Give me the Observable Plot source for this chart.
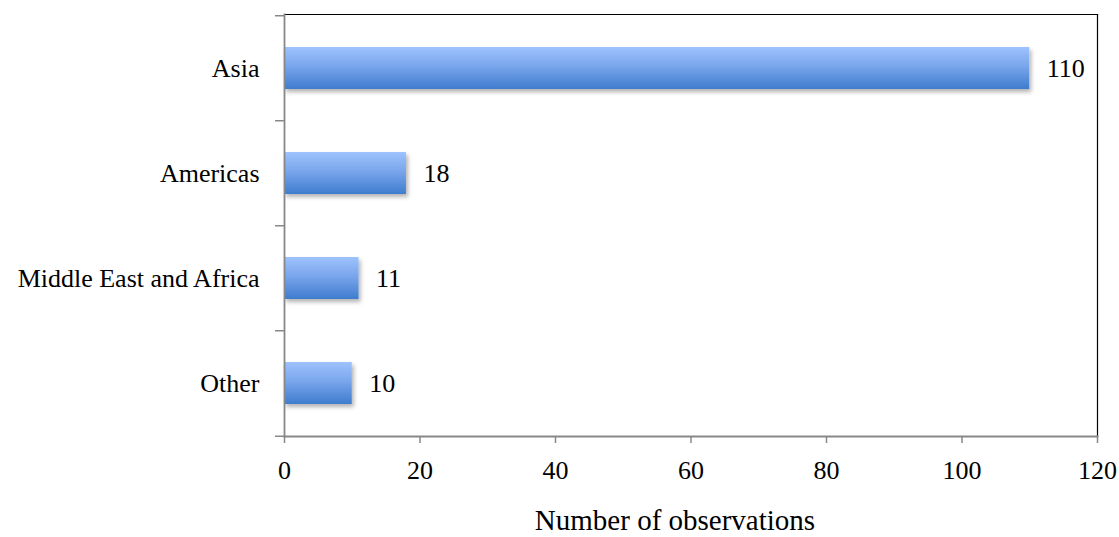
<!DOCTYPE html>
<html><head><meta charset="utf-8">
<script src="https://cdn.jsdelivr.net/npm/d3@7"></script>
<script src="https://cdn.jsdelivr.net/npm/@observablehq/plot@0.6"></script>
<style>body{margin:0;background:#fff}</style>
</head><body><div id="chart"></div>
<script>
const regions = ["Asia", "Americas", "Middle East and Africa", "Other"];
const counts = [110, 18, 11, 10];
const xTicks = [0, 20, 40, 60, 80, 100, 120];
const xLabel = "Number of observations";

const data = regions.map((r, i) => ({region: r, count: counts[i]}));

const W = 1119, H = 537;
const mTop = 14, mBottom = 101, mLeft = 284, mRight = 22;
const step = (H - mTop - mBottom) / regions.length;
const pxPerUnit = (W - mLeft - mRight) / 120;
const tickLen = 9 / pxPerUnit;

const defs = () => {
  const d = d3.create("svg:defs");
  const g = d.append("linearGradient").attr("id", "barGrad")
    .attr("x1", 0).attr("x2", 0).attr("y1", 0).attr("y2", 1);
  g.append("stop").attr("offset", "0%").attr("stop-color", "#9ec3fd");
  g.append("stop").attr("offset", "45%").attr("stop-color", "#7aa6ec");
  g.append("stop").attr("offset", "100%").attr("stop-color", "#3f7cce");
  const f = d.append("filter").attr("id", "shadow")
    .attr("x", "-5%").attr("y", "-20%").attr("width", "115%").attr("height", "150%");
  f.append("feDropShadow").attr("dx", 2).attr("dy", 3).attr("stdDeviation", 2)
    .attr("flood-color", "#000").attr("flood-opacity", 0.3);
  return d.node();
};

const font = "'Liberation Serif', 'Times New Roman', serif";

const chart = Plot.plot({
  width: W, height: H,
  marginTop: mTop, marginBottom: mBottom, marginLeft: mLeft, marginRight: mRight,
  style: {fontFamily: font, fontSize: "26px", color: "black", background: "white"},
  x: {domain: [0, 120]},
  y: {domain: regions, paddingInner: 0.6, paddingOuter: 0.3},
  marks: [
    defs,
    Plot.barX(data, {x: "count", y: "region", fill: "url(#barGrad)"}),
    Plot.text(data, {x: "count", y: "region", text: d => String(d.count), textAnchor: "start", dx: 17, fill: "black", fontSize: 26}),
    Plot.frame({anchor: "top", stroke: "black", strokeWidth: 1.2}),
    Plot.frame({anchor: "right", stroke: "black", strokeWidth: 1.2}),
    Plot.frame({anchor: "left", stroke: "#888", strokeWidth: 1.8}),
    Plot.frame({anchor: "bottom", stroke: "#888", strokeWidth: 1.8}),
    Plot.ruleY(regions, {y: d => d, dy: -step / 2, x1: -tickLen, x2: 0, stroke: "#888", strokeWidth: 1.5}),
    Plot.ruleY([regions[regions.length - 1]], {y: d => d, dy: step / 2, x1: -tickLen, x2: 0, stroke: "#888", strokeWidth: 1.5}),
    Plot.axisY({tickSize: 0, tickPadding: 25, label: null, fontSize: 26}),
    Plot.axisX({ticks: xTicks, tickSize: 7, tickPadding: 17, stroke: "#888", strokeWidth: 1.5, label: null, fontSize: 26}),
    Plot.text([xLabel], {frameAnchor: "bottom", dy: 84, dx: -16, lineAnchor: "middle", fontSize: 29, fill: "black"})
  ]
});

const bars = chart.querySelector('g[aria-label="bar"]');
if (bars) bars.setAttribute("filter", "url(#shadow)");
document.getElementById("chart").append(chart);
</script>
</body></html>
